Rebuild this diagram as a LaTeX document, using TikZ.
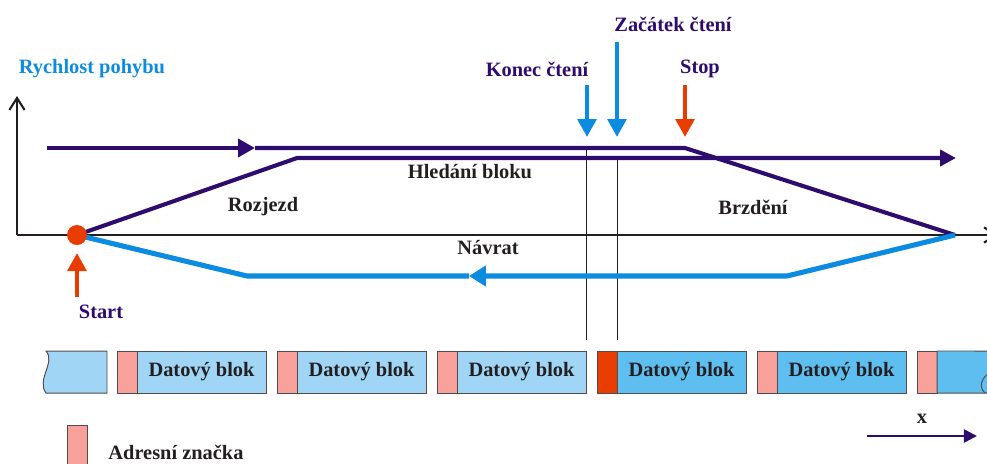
\documentclass[tikz,border=0pt]{standalone}
\usepackage{fontspec}
\setmainfont{Liberation Serif}
\usetikzlibrary{arrows.meta}

\definecolor{indigo}{RGB}{46,12,110}
\definecolor{skyblue}{RGB}{12,140,225}
\definecolor{redorange}{RGB}{232,60,0}
\definecolor{addrpink}{RGB}{248,160,154}
\definecolor{paleblock}{RGB}{160,213,246}
\definecolor{deepblock}{RGB}{94,190,240}
\definecolor{ink}{RGB}{35,31,32}

\tikzset{
  lbl/.style={font=\bfseries\fontsize{14.5}{16}\selectfont, text=ink, inner sep=0pt},
  axis/.style={draw=ink, line width=1.5pt, -{Straight Barb[length=0.3cm,width=0.38cm]}},
  speed/.style={draw=indigo, line width=2.9pt},
  back/.style={draw=skyblue, line width=3.6pt},
  readline/.style={draw=ink, line width=0.7pt},
  pointer/.style={line width=3.4pt, -{Triangle[length=0.45cm,width=0.46cm]}},
  addr/.style={draw=ink!80, line width=0.7pt, fill=addrpink, minimum width=0.5cm,
    minimum height=1.05cm, inner sep=0pt, outer sep=0pt},
  datablk/.style={draw=ink!80, line width=0.7pt, minimum width=3.225cm,
    minimum height=1.05cm, inner sep=0pt, outer sep=0pt, lbl}
}

\begin{document}
\begin{tikzpicture}[x=0.025cm,y=-0.025cm]
\useasboundingbox (0,0) rectangle (987,463);
\clip (0,0) rectangle (987,463);

\coordinate (origin) at (17,235);
\coordinate (yend) at (17,96);
\coordinate (xend) at (998,235);
\draw[axis] (origin) -- (yend);
\draw[axis] (origin) -- (xend);

\coordinate (start) at (77,235);
\coordinate (cruise) at (297,158);
\coordinate (cruiseEnd) at (956,158);
\coordinate (searchL) at (47,148);
\coordinate (searchMid) at (255,148);
\coordinate (stop) at (685,148);
\coordinate (halt) at (955,235);
\coordinate (backR) at (787,276);
\coordinate (backMid) at (469,276);
\coordinate (backL) at (247,276);

\coordinate (endTop) at (586,148);
\coordinate (endBot) at (586,340);
\coordinate (beginTop) at (617,158);
\coordinate (beginBot) at (617,340);
\draw[readline] (endTop) -- (endBot);
\draw[readline] (beginTop) -- (beginBot);

\draw[speed, -{Triangle[length=0.42cm,width=0.44cm]}] (searchL) -- (searchMid);
\draw[speed] (searchMid) -- (stop) -- (halt);
\draw[speed, -{Triangle[length=0.4cm,width=0.4cm]}] (start) -- (cruise) -- (cruiseEnd);
\draw[back, -{Triangle[length=0.42cm,width=0.5cm]}] (halt) -- (backR) -- (backMid);
\draw[back] (backMid) -- (backL) -- (start);

\node[circle, fill=redorange, minimum size=0.5cm, inner sep=0pt] (startDot) at (start) {};

\coordinate (startFoot) at (77,297);
\coordinate (startTip) at (77,253);
\draw[pointer, redorange] (startFoot) -- (startTip);

\coordinate (konecTop) at (587,85);
\coordinate (konecTip) at (587,137);
\coordinate (zacatekTop) at (617,42);
\coordinate (zacatekTip) at (617,137);
\coordinate (stopTop) at (685,85);
\coordinate (stopTip) at (685,137);
\draw[pointer, skyblue] (konecTop) -- (konecTip);
\draw[pointer, skyblue] (zacatekTop) -- (zacatekTip);
\draw[pointer, redorange] (stopTop) -- (stopTip);

\node[lbl, text=skyblue] (rychlost) at (92,69) {Rychlost pohybu};
\node[lbl, text=indigo] (konec) at (537,69) {Konec čtení};
\node[lbl, text=indigo] (zacatek) at (673,24) {Začátek čtení};
\node[lbl, text=indigo] (stoplbl) at (700,69) {Stop};
\node[lbl, text=indigo] (startlbl) at (101,312) {Start};
\node[lbl] (hledani) at (470,172) {Hledání bloku};
\node[lbl] (rozjezd) at (263,207) {Rozjezd};
\node[lbl] (brzdeni) at (753,207) {Brzdění};
\node[lbl] (navrat) at (488,248) {Návrat};

% magneticka paska
\draw[draw=ink!80, line width=0.7pt, fill=paleblock]
  (46,393) .. controls (36,380) and (56,362) .. (46,351) -- (107,351) -- (107,393) -- cycle;
\foreach \i/\mk/\bl in {0/addrpink/paleblock, 1/addrpink/paleblock, 2/addrpink/paleblock,
                        3/redorange/deepblock, 4/addrpink/deepblock} {
  \node[addr, fill=\mk] (m\i) at ({127+160*\i},372) {};
  \node[datablk, fill=\bl, anchor=west] (d\i) at (m\i.east) {Datový blok};
}
\node[addr] (m5) at (927,372) {};
\draw[draw=ink!80, line width=0.7pt, fill=deepblock]
  (m5.south east) -- (m5.north east) -- (992,351) -- (992,393) -- cycle;
\draw[draw=ink!80, line width=0.7pt] (988,374) .. controls (979,380) and (980,391) .. (986,393);

\node[addr, minimum height=1.2cm, anchor=north] (legend) at (77,425) {};
\node[lbl] (legendlbl) at (176,452) {Adresní značka};

\coordinate (dirL) at (867,436);
\coordinate (dirR) at (977,436);
\draw[draw=indigo, line width=1.8pt, -{Triangle[length=0.33cm,width=0.33cm]}] (dirL) -- (dirR);
\node[lbl] (xlbl) at (922,419) {x};
\end{tikzpicture}
\end{document}
